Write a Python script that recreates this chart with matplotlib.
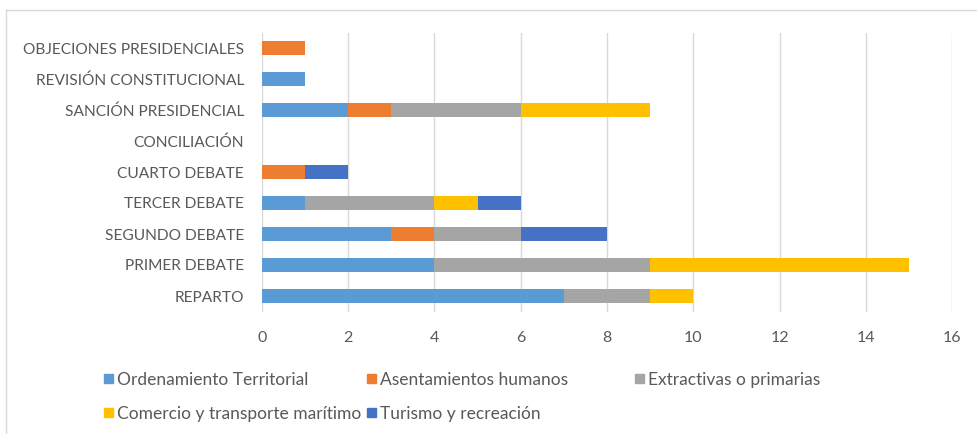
import matplotlib
matplotlib.use("Agg")
import matplotlib.pyplot as plt
from matplotlib.patches import Rectangle
from matplotlib.lines import Line2D
import numpy as np

categories = ["REPARTO", "PRIMER DEBATE", "SEGUNDO DEBATE", "TERCER DEBATE",
              "CUARTO DEBATE", "CONCILIACIÓN", "SANCIÓN PRESIDENCIAL",
              "REVISIÓN CONSTITUCIONAL", "OBJECIONES PRESIDENCIALES"]
series_names = ["Ordenamiento Territorial", "Asentamientos humanos",
                "Extractivas o primarias", "Comercio y transporte marítimo",
                "Turismo y recreación"]
ordenamiento = [7, 4, 3, 1, 0, 0, 2, 1, 0]
asentamientos = [0, 0, 1, 0, 1, 0, 1, 0, 1]
extractivas = [2, 5, 2, 3, 0, 0, 3, 0, 0]
comercio = [1, 6, 0, 1, 0, 0, 3, 0, 0]
turismo = [0, 0, 2, 1, 1, 0, 0, 0, 0]
x_ticks = [0, 2, 4, 6, 8, 10, 12, 14, 16]

colors = ["#5B9BD5", "#ED7D31", "#A5A5A5", "#FFC000", "#4472C4"]
txt = "#595959"
font = "Lato"
W, H = 978, 434

fig = plt.figure(figsize=(W / 100, H / 100), dpi=100)
ax = fig.add_axes([262 / W, 1 - 311.5 / H, (952 - 262) / W, (311.5 - 32.5) / H])

y = np.arange(len(categories))
left = np.zeros(len(categories))
for name, vals, c in zip(series_names, [ordenamiento, asentamientos, extractivas, comercio, turismo], colors):
    ax.barh(y, vals, left=left, height=0.42, color=c, label=name, zorder=3)
    left += np.array(vals)

ax.set_xlim(0, 16)
ax.set_ylim(-0.5, len(categories) - 0.5)
ax.set_xticks(x_ticks)
ax.set_xticklabels([str(v) for v in x_ticks], fontsize=11.5, color=txt, family=font)
ax.set_yticks(y)
ax.set_yticklabels(categories, fontsize=11.2, color=txt, family=font)
ax.tick_params(axis="both", length=0)
ax.tick_params(axis="x", pad=14)
ax.tick_params(axis="y", pad=13)
ax.grid(axis="x", color="#D9D9D9", linewidth=1, zorder=0)
for s in ax.spines.values():
    s.set_visible(False)

# legend laid out in Excel style: equal-width columns, filled row by row
col_x = [104, 367, 635]
row_y = [378.5, 412]
for i, (name, c) in enumerate(zip(series_names, colors)):
    cx = col_x[i % 3]
    cy = row_y[i // 3]
    fig.add_artist(Rectangle((cx / W, 1 - (cy + 4.5) / H), 9 / W, 9 / H,
                             transform=fig.transFigure, color=c))
    fig.text((cx + 13) / W, 1 - cy / H, name, ha="left", va="center_baseline",
             fontsize=12.5, color=txt, family=font)

# outer chart border (top and left visible)
fig.add_artist(Line2D([6 / W, 1], [1 - 10 / H, 1 - 10 / H], transform=fig.transFigure, color="#D9D9D9", lw=1))
fig.add_artist(Line2D([6 / W, 6 / W], [0, 1 - 10 / H], transform=fig.transFigure, color="#D9D9D9", lw=1))

fig.savefig("out.png", dpi=100)
